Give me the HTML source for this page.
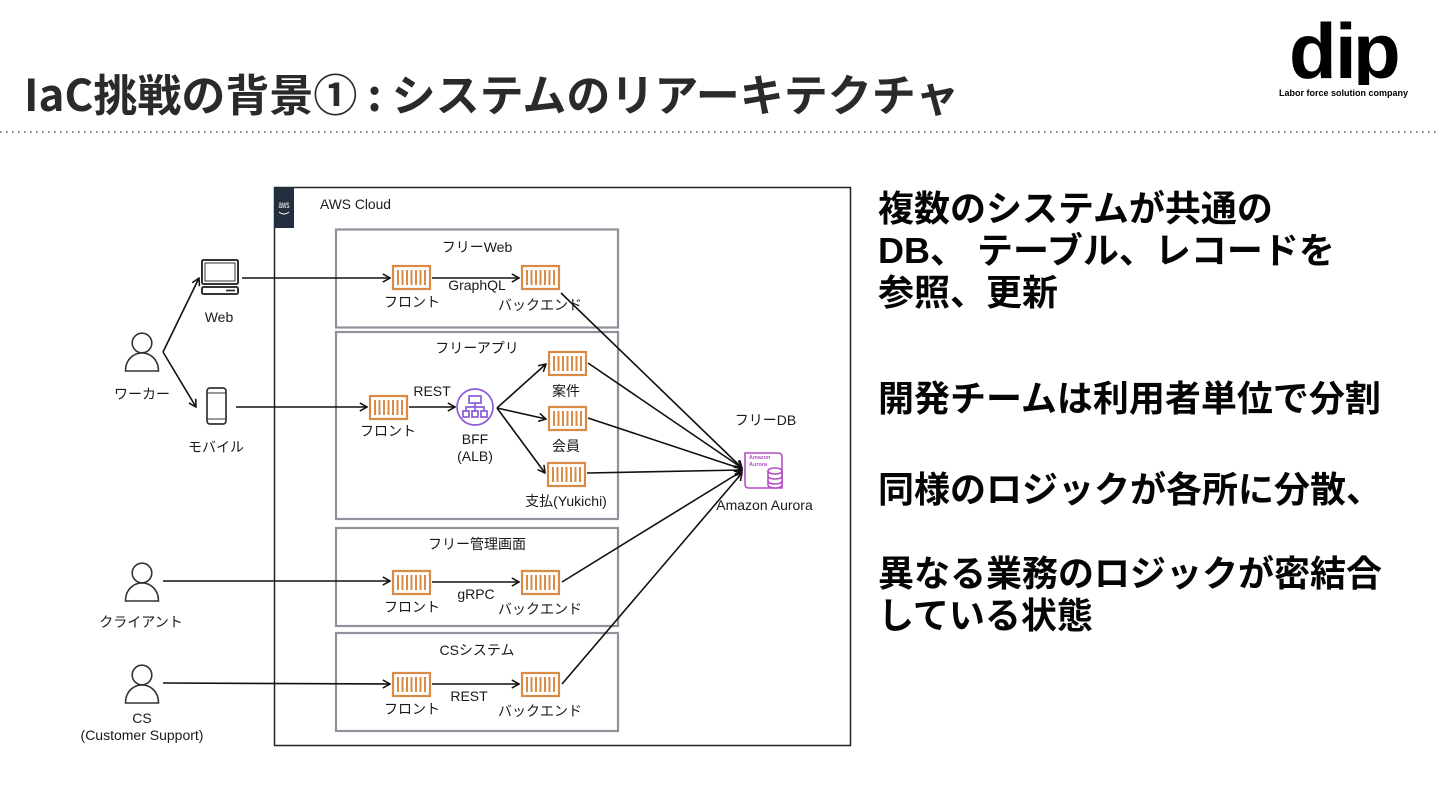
<!DOCTYPE html>
<html lang="ja"><head><meta charset="utf-8"><title>IaC</title>
<style>
html,body{margin:0;padding:0;background:#fff;width:1440px;height:810px;overflow:hidden}
svg{display:block}
text{font-family:"Liberation Sans","Noto Sans CJK JP",sans-serif;fill:#1a1a1a}
.j{font-size:14px;text-anchor:middle}
.e{font-size:14px;text-anchor:middle}
.h{font-family:"Noto Sans CJK JP",sans-serif;font-weight:700;fill:#2a2a2a}
.b{font-family:"Noto Sans CJK JP",sans-serif;font-weight:700;font-size:36px;fill:#050505}
.c{fill:none;stroke:#111;stroke-width:1.600}
.g{fill:#fff;stroke:#8d929b;stroke-width:2.200}
</style></head><body>
<svg width="1440" height="810" viewBox="0 0 1440 810" xmlns="http://www.w3.org/2000/svg">
<defs>
<clipPath id="logo"><rect x="1280" y="15" width="130" height="70"/></clipPath>
<g id="k"><rect x="1" y="1" width="37" height="23" fill="#fff" stroke="#d98a45" stroke-width="2.200"/>
<path d="M6 5V20M10.500 5V20M15 5V20M19.500 5V20M24 5V20M28.500 5V20M33 5V20" stroke="#d98a45" stroke-width="2" fill="none"/></g>
<g id="u" fill="none" stroke="#333" stroke-width="1.600"><circle cx="142" cy="0" r="9.800"/><path d="M125.500 28C125.500 16 134 10 142 10C150 10 158.500 16 158.500 28Z"/></g>
<marker id="a" viewBox="0 0 10 10" refX="9" refY="5" markerWidth="9" markerHeight="9" markerUnits="userSpaceOnUse" orient="auto"><path d="M1 .5L9 5L1 9.500" fill="none" stroke="#111" stroke-width="1.700"/></marker>
</defs>

<text class="h" x="24" y="111" font-size="44">IaC挑戦の背景① : システムのリアーキテクチャ</text>
<line x1="0" y1="132" x2="1440" y2="132" stroke="#555" stroke-width="1.500" stroke-dasharray="1.500 4.500"/>

<g clip-path="url(#logo)">
<text x="1289 1335 1353" y="78" font-size="78" font-weight="700" style="font-family:'Liberation Sans',sans-serif;fill:#000">dip</text>
</g>
<text x="1343.500" y="96" font-size="9" font-weight="700" text-anchor="middle" textLength="129" lengthAdjust="spacingAndGlyphs" style="fill:#000">Labor force solution company</text>

<rect x="274.500" y="187.500" width="576" height="558" fill="#fff" stroke="#222" stroke-width="1.500"/>
<rect x="274" y="187" width="20" height="41" fill="#232f3e"/>
<text x="284" y="208" font-size="10" text-anchor="middle" textLength="11" lengthAdjust="spacingAndGlyphs" style="fill:#fff">aws</text>
<path d="M279 212Q284 216 289 212" stroke="#fff" fill="none"/>
<text x="320" y="209" font-size="14" textLength="71" lengthAdjust="spacingAndGlyphs">AWS Cloud</text>

<rect class="g" x="336" y="229.500" width="282" height="98"/>
<rect class="g" x="336" y="332" width="282" height="187"/>
<rect class="g" x="336" y="528" width="282" height="98"/>
<rect class="g" x="336" y="633" width="282" height="98"/>

<text class="j" x="477" y="252">フリーWeb</text>
<text class="j" x="477" y="353">フリーアプリ</text>
<text class="j" x="477" y="549">フリー管理画面</text>
<text class="j" x="477" y="655">CSシステム</text>

<use href="#k" x="392" y="265"/><use href="#k" x="521" y="265"/>
<use href="#k" x="369" y="395"/>
<use href="#k" x="548" y="351"/><use href="#k" x="548" y="406"/><use href="#k" x="547" y="462"/>
<use href="#k" x="392" y="570"/><use href="#k" x="521" y="570"/>
<use href="#k" x="392" y="672"/><use href="#k" x="521" y="672"/>

<text class="j" x="412" y="307">フロント</text>
<text class="j" x="540" y="310">バックエンド</text>
<text class="j" x="388" y="436">フロント</text>
<text class="j" x="566" y="396">案件</text>
<text class="j" x="566" y="451">会員</text>
<text class="j" x="566" y="506">支払(Yukichi)</text>
<text class="j" x="412" y="612">フロント</text>
<text class="j" x="540" y="614">バックエンド</text>
<text class="j" x="412" y="714">フロント</text>
<text class="j" x="540" y="716">バックエンド</text>
<text class="j" x="142" y="399">ワーカー</text>
<text class="j" x="216" y="452">モバイル</text>
<text class="j" x="141" y="627">クライアント</text>
<text class="j" x="765.500" y="425">フリーDB</text>

<text class="e" x="219" y="322">Web</text>
<text class="e" x="477" y="290">GraphQL</text>
<text class="e" x="432" y="396">REST</text>
<text class="e" x="475" y="444">BFF</text>
<text class="e" x="475" y="461">(ALB)</text>
<text class="e" x="476" y="599">gRPC</text>
<text class="e" x="469" y="701">REST</text>
<text class="e" x="764.500" y="510">Amazon Aurora</text>
<text class="e" x="142" y="723">CS</text>
<text class="e" x="142" y="740">(Customer Support)</text>

<use href="#u" y="343"/><use href="#u" y="573"/><use href="#u" y="675"/>

<g fill="none" stroke="#333">
<rect x="202" y="260" width="36" height="24" rx="1.500" stroke-width="2"/>
<rect x="205" y="263" width="30" height="18" stroke-width="1"/>
<rect x="202" y="287" width="36" height="7" rx="1.500" stroke-width="2"/>
<path d="M226 290.500H235" stroke-width="1.800"/>
<rect x="207" y="388" width="19" height="36" rx="3" stroke-width="1.700"/>
<path d="M207 393H226M207 419H226" stroke-width="1"/>
</g>

<g fill="none" stroke="#8c5cd6" stroke-width="1.700">
<circle cx="475" cy="407" r="18"/>
<rect x="469" y="396" width="12" height="7"/>
<path d="M475 403V407M466 411V407H484V411M475 407V411"/>
<rect x="463" y="411" width="6" height="6"/><rect x="472" y="411" width="6" height="6"/><rect x="481" y="411" width="6" height="6"/>
</g>

<g fill="none" stroke="#b44fc4" stroke-width="1.600">
<path d="M745 453H778Q782 453 782 457V488H749Q745 488 745 484Z"/>
<path d="M768 471C768 467 782 467 782 471V485C782 489 768 489 768 485Z" fill="#fff"/>
<path d="M768 471C768 475 782 475 782 471M768 476C768 480 782 480 782 476M768 481C768 485 782 485 782 481"/>
</g>
<text x="749" y="459" font-size="5.500" font-weight="700" style="fill:#b44fc4">Amazon</text>
<text x="749" y="466" font-size="5.500" font-weight="700" style="fill:#b44fc4">Aurora</text>

<path class="c" marker-end="url(#a)" d="M163 352L199 278"/>
<path class="c" marker-end="url(#a)" d="M163 352L196 407"/>
<path class="c" marker-end="url(#a)" d="M242 278H390"/>
<path class="c" marker-end="url(#a)" d="M432 278H519"/>
<path class="c" marker-end="url(#a)" d="M236 407H367"/>
<path class="c" marker-end="url(#a)" d="M409 407H455"/>
<path class="c" marker-end="url(#a)" d="M497 408L546 364"/>
<path class="c" marker-end="url(#a)" d="M497 408L546 419"/>
<path class="c" marker-end="url(#a)" d="M497 408L545 473"/>
<path class="c" marker-end="url(#a)" d="M163 581H390"/>
<path class="c" marker-end="url(#a)" d="M432 582H519"/>
<path class="c" marker-end="url(#a)" d="M163 683L390 684"/>
<path class="c" marker-end="url(#a)" d="M432 684H519"/>
<path class="c" marker-end="url(#a)" d="M561 293L742 468"/>
<path class="c" marker-end="url(#a)" d="M588 363L742 468"/>
<path class="c" marker-end="url(#a)" d="M588 418L742 469"/>
<path class="c" marker-end="url(#a)" d="M587 473L742 470"/>
<path class="c" marker-end="url(#a)" d="M562 582L742 471"/>
<path class="c" marker-end="url(#a)" d="M562 684L742 473"/>

<text class="b" x="878" y="221">複数のシステムが共通の</text>
<text class="b" x="878" y="263" style="font-family:'Liberation Sans','Noto Sans CJK JP',sans-serif">DB、</text>
<text class="b" x="977" y="263">テーブル、レコードを</text>
<text class="b" x="878" y="305">参照、更新</text>
<text class="b" x="878" y="411">開発チームは利用者単位で分割</text>
<text class="b" x="878" y="502">同様のロジックが各所に分散、</text>
<text class="b" x="878" y="586">異なる業務のロジックが密結合</text>
<text class="b" x="878" y="628">している状態</text>
</svg>
</body></html>
